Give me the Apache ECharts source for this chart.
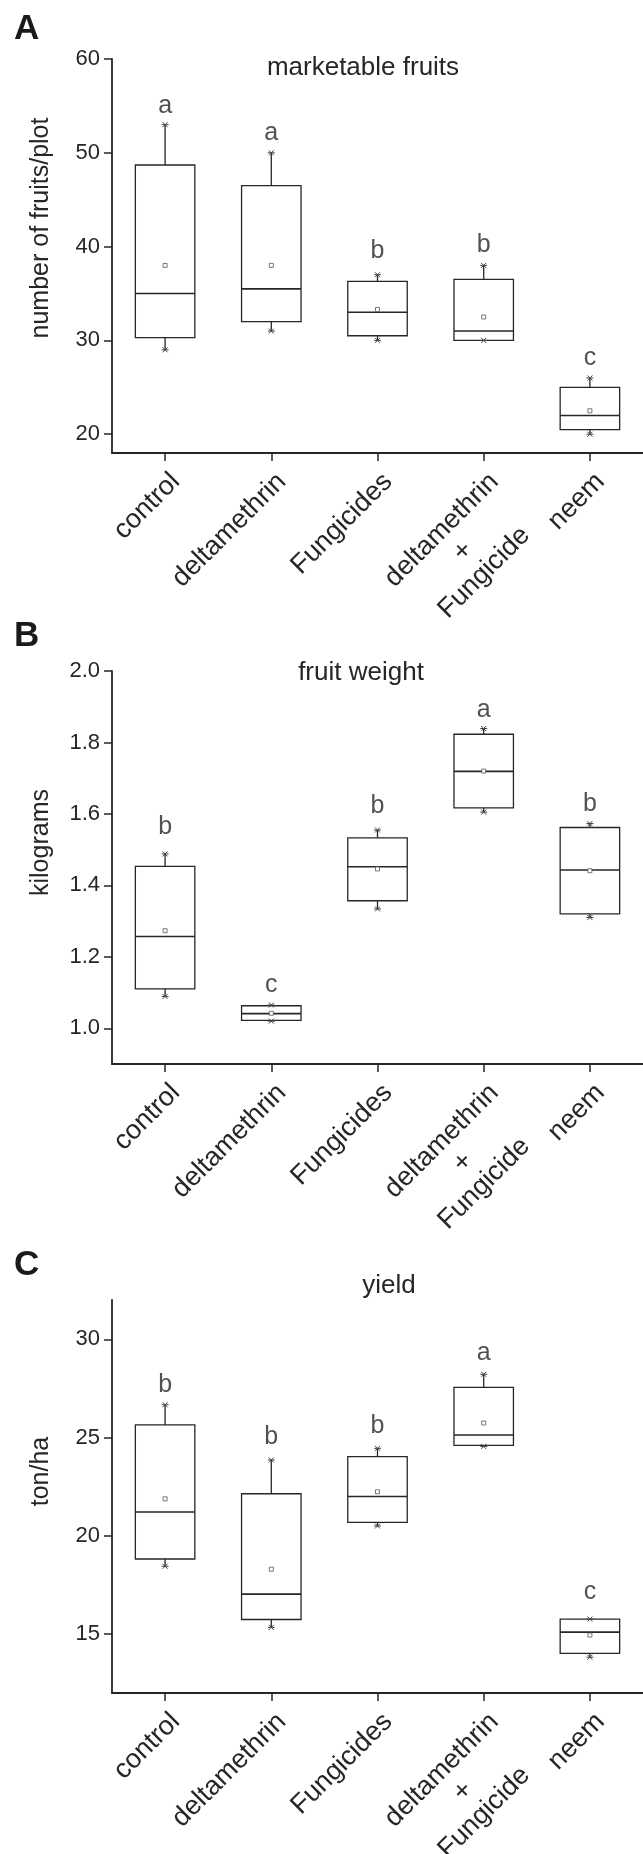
<!DOCTYPE html>
<html>
<head>
<meta charset="utf-8">
<script src="https://cdn.jsdelivr.net/npm/echarts@6/dist/echarts.min.js"></script>
<style>
html,body{margin:0;padding:0;background:#ffffff;}
#chart{width:643px;height:1854px;}
</style>
</head>
<body>
<div id="chart"></div>
<script>
// ---------- data ----------
const categories = ['control', 'deltamethrin', 'Fungicides', 'deltamethrin\n+\nFungicide', 'neem'];

// Panel A: marketable fruits (number of fruits/plot)
const fruitsMin     = [29, 31, 30, 30, 20];
const fruitsQ1      = [30.3, 32, 30.5, 30, 20.5];
const fruitsMedian  = [35, 35.5, 33, 31, 22];
const fruitsQ3      = [48.7, 46.5, 36.3, 36.5, 25];
const fruitsMax     = [53, 50, 37, 38, 26];
const fruitsMean    = [38, 38, 33.3, 32.5, 22.5];
const fruitsLetters = ['a', 'a', 'b', 'b', 'c'];
const fruitsLetterY = [54.95, 52.1, 39.5, 40.2, 28.1];
const fruitsTicks   = [20, 30, 40, 50, 60];

// Panel B: fruit weight (kilograms)
const weightMin     = [1.089, 1.020, 1.334, 1.605, 1.310];
const weightQ1      = [1.110, 1.022, 1.357, 1.617, 1.320];
const weightMedian  = [1.257, 1.041, 1.452, 1.719, 1.443];
const weightQ3      = [1.453, 1.063, 1.533, 1.823, 1.562];
const weightMax     = [1.488, 1.065, 1.555, 1.839, 1.573];
const weightMean    = [1.273, 1.042, 1.446, 1.720, 1.441];
const weightLetters = ['b', 'c', 'b', 'a', 'b'];
const weightLetterY = [1.564, 1.122, 1.622, 1.890, 1.628];
const weightTicks   = [1.0, 1.2, 1.4, 1.6, 1.8, 2.0];

// Panel C: yield (ton/ha)
const yieldMin     = [18.45, 15.34, 20.50, 24.55, 13.82];
const yieldQ1      = [18.82, 15.74, 20.68, 24.60, 14.02];
const yieldMedian  = [21.21, 17.03, 22.00, 25.13, 15.10];
const yieldQ3      = [25.64, 22.14, 24.03, 27.55, 15.76];
const yieldMax     = [26.67, 23.86, 24.45, 28.22, 15.76];
const yieldMean    = [21.88, 18.30, 22.24, 25.74, 14.95];
const yieldLetters = ['b', 'b', 'b', 'a', 'c'];
const yieldLetterY = [27.67, 25.01, 25.60, 29.32, 17.15];
const yieldTicks   = [15, 20, 25, 30];

// ---------- styling ----------
const FONT = '"Liberation Sans", Arial, Helvetica, sans-serif';
const INK = '#262626';

function renderBox(params, api) {
  const i = api.value(0);
  const P = v => api.coord([i, v]);
  const pMin = P(api.value(1)), pQ1 = P(api.value(2)), pMed = P(api.value(3));
  const pQ3 = P(api.value(4)), pMax = P(api.value(5)), pMean = P(api.value(6));
  const cx = pMed[0];
  const half = api.size([1, 0])[0] * 0.28;
  const ls = {stroke: INK, lineWidth: 1.3, fill: null};
  const ch = [];
  ch.push({type: 'line', shape: {x1: cx, y1: pQ3[1], x2: cx, y2: pMax[1]}, style: ls});
  ch.push({type: 'line', shape: {x1: cx, y1: pQ1[1], x2: cx, y2: pMin[1]}, style: ls});
  ch.push({type: 'rect', shape: {x: cx - half, y: pQ3[1], width: 2 * half, height: pQ1[1] - pQ3[1]},
           style: {fill: '#ffffff', stroke: INK, lineWidth: 1.3}});
  ch.push({type: 'line', shape: {x1: cx - half, y1: pMed[1], x2: cx + half, y2: pMed[1]},
           style: {stroke: INK, lineWidth: 1.6}});
  ch.push({type: 'rect', shape: {x: cx - 2, y: pMean[1] - 2, width: 4, height: 4},
           style: {fill: '#ffffff', stroke: '#555555', lineWidth: 0.8}});
  [pMin, pMax].forEach(p => {
    const st = {stroke: '#444444', lineWidth: 1};
    ch.push({type: 'line', shape: {x1: p[0] - 3.5, y1: p[1], x2: p[0] + 3.5, y2: p[1]}, style: st});
    ch.push({type: 'line', shape: {x1: p[0] - 2.5, y1: p[1] - 2.5, x2: p[0] + 2.5, y2: p[1] + 2.5}, style: st});
    ch.push({type: 'line', shape: {x1: p[0] - 2.5, y1: p[1] + 2.5, x2: p[0] + 2.5, y2: p[1] - 2.5}, style: st});
  });
  return {type: 'group', children: ch};
}

const panels = [
  {letter: 'A', title: 'marketable fruits', yName: 'number of fruits/plot',
   min: fruitsMin, q1: fruitsQ1, med: fruitsMedian, q3: fruitsQ3, max: fruitsMax, mean: fruitsMean,
   letters: fruitsLetters, letterY: fruitsLetterY, ticks: fruitsTicks,
   yMin: 18, yMax: 60, fmt: v => String(v),
   top: 59, height: 394, titleX: 363, titleY: 68, letterTop: 29, nameShift: 56},
  {letter: 'B', title: 'fruit weight', yName: 'kilograms',
   min: weightMin, q1: weightQ1, med: weightMedian, q3: weightQ3, max: weightMax, mean: weightMean,
   letters: weightLetters, letterY: weightLetterY, ticks: weightTicks,
   yMin: 0.9, yMax: 2.0, fmt: v => Number(v).toFixed(1),
   top: 671, height: 393, titleX: 361, titleY: 673, letterTop: 636, nameShift: 50},
  {letter: 'C', title: 'yield', yName: 'ton/ha',
   min: yieldMin, q1: yieldQ1, med: yieldMedian, q3: yieldQ3, max: yieldMax, mean: yieldMean,
   letters: yieldLetters, letterY: yieldLetterY, ticks: yieldTicks,
   yMin: 12, yMax: 32, fmt: v => String(v),
   top: 1300, height: 393, titleX: 389, titleY: 1286, letterTop: 1265, nameShift: 50}
];

const option = {
  backgroundColor: '#ffffff',
  animation: false,
  title: [], grid: [], xAxis: [], yAxis: [], series: []
};

panels.forEach((p, k) => {
  option.title.push({
    text: p.title, left: p.titleX, top: p.titleY, textAlign: 'center', textVerticalAlign: 'middle', padding: 0,
    textStyle: {fontFamily: FONT, fontSize: 26, fontWeight: 'normal', color: INK}
  });
  option.title.push({
    text: p.letter, left: 14, top: p.letterTop, textAlign: 'left', textVerticalAlign: 'middle', padding: 0,
    textStyle: {fontFamily: FONT, fontSize: 35, fontWeight: 'bold', color: '#1a1a1a'}
  });
  option.grid.push({left: 112, right: 0, top: p.top, height: p.height, containLabel: false, outerBoundsMode: 'none'});
  option.xAxis.push({
    type: 'category', gridIndex: k, data: categories, boundaryGap: true,
    axisLine: {show: true, lineStyle: {color: INK, width: 1.8}},
    axisTick: {show: true, alignWithLabel: true, length: 8, lineStyle: {color: INK, width: 1.5}},
    axisLabel: {
      interval: 0, rotate: 45, margin: 14, verticalAlign: 'top', color: INK,
      fontFamily: FONT, fontSize: 27,
      formatter: v => v.split('\n').map(s => '{c|' + s + '}').join('\n'),
      rich: {c: {align: 'center', fontFamily: FONT, fontSize: 27, lineHeight: 30, color: INK}}
    },
    splitLine: {show: false}
  });
  option.yAxis.push({
    type: 'value', gridIndex: k, min: p.yMin, max: p.yMax,
    axisLine: {show: true, lineStyle: {color: INK, width: 1.8}},
    axisTick: {show: true, length: 8, lineStyle: {color: INK, width: 1.5}, customValues: p.ticks},
    axisLabel: {margin: 12, color: INK, fontFamily: FONT, fontSize: 22, customValues: p.ticks, formatter: p.fmt},
    splitLine: {show: false},
    name: p.yName, nameLocation: 'middle', nameGap: 58,
    nameTextStyle: {fontFamily: FONT, fontSize: 25, color: INK, padding: [0, 0, 0, p.nameShift]}
  });
  const rows = categories.map((c, i) => [i, p.min[i], p.q1[i], p.med[i], p.q3[i], p.max[i], p.mean[i]]);
  option.series.push({
    type: 'custom', xAxisIndex: k, yAxisIndex: k, renderItem: renderBox, data: rows,
    encode: {x: 0, y: [1, 2, 3, 4, 5, 6]}, silent: true, z: 2
  });
  option.series.push({
    type: 'scatter', xAxisIndex: k, yAxisIndex: k, silent: true, z: 3,
    data: p.letterY.map((v, i) => [i, v]),
    symbol: 'circle', symbolSize: 1, itemStyle: {color: 'rgba(0,0,0,0)'},
    label: {show: true, position: 'inside', formatter: q => p.letters[q.dataIndex],
            fontFamily: FONT, fontSize: 25, color: INK}
  });
});

const chart = echarts.init(document.getElementById('chart'), null, {renderer: 'canvas'});
chart.setOption(option);
</script>
</body>
</html>
